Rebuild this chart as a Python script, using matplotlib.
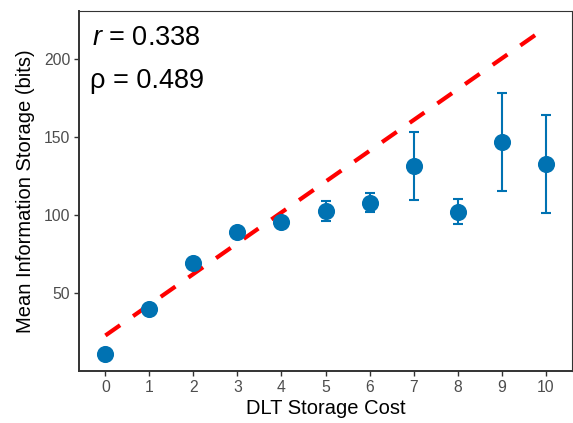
import numpy as np
import matplotlib
matplotlib.use('Agg')
import matplotlib.pyplot as plt

plt.rcParams['font.family'] = ['Liberation Sans', 'DejaVu Sans']
plt.rcParams['mathtext.fontset'] = 'custom'
plt.rcParams['mathtext.rm'] = 'Liberation Sans'
plt.rcParams['mathtext.it'] = 'Liberation Sans:italic'

# data
cost = [0, 1, 2, 3, 4, 5, 6, 7, 8, 9, 10]
mean_info = [11.1, 40.1, 69.2, 89.5, 95.7, 102.8, 108.1, 131.5, 102.3, 146.8, 132.9]
err = [0.0, 0.0, 0.0, 0.0, 0.0, 6.3, 5.8, 21.8, 7.9, 31.4, 31.5]
fit_x = [0, 10]
fit_y = [22.8, 220.2]
r_text = '$r$ = 0.338'
rho_text = 'ρ = 0.489'

blue = '#0072B2'
fig = plt.figure(figsize=(5.73, 4.23), dpi=100)
ax = fig.add_axes([79 / 573, 52 / 423, 493 / 573, 360 / 423])

ax.errorbar(cost, mean_info, yerr=err, fmt='o', color=blue, ms=11.3,
            elinewidth=1.5, capsize=3.6, capthick=1.5, zorder=3)
ax.plot(fit_x, fit_y, color='red', lw=3, ls=(0, (4.3, 3.8)), zorder=2)

# correlation labels
ax.text(-0.3, 209, r_text, fontsize=19.5, va='baseline', ha='left')
ax.text(-0.35, 181.3, rho_text, fontsize=19.5, va='baseline', ha='left')

ax.set_xlim(-0.6, 10.6)
ax.set_ylim(0, 231)
ax.set_xticks(cost)
ax.set_yticks([50, 100, 150, 200])
ax.tick_params(direction='out', length=3.8, width=1.0, color='#333333',
               labelcolor='#4D4D4D', labelsize=11.3, pad=2.5)
for side in ['top', 'right']:
    ax.spines[side].set_linewidth(0.8)
    ax.spines[side].set_color('#333333')
for side in ['left', 'bottom']:
    ax.spines[side].set_linewidth(1.4)
    ax.spines[side].set_color('#333333')

ax.set_xlabel('DLT Storage Cost', fontsize=14.5, labelpad=3)
ax.set_ylabel('Mean Information Storage (bits)', fontsize=14.5, labelpad=6)

fig.savefig('out.png', dpi=100)
